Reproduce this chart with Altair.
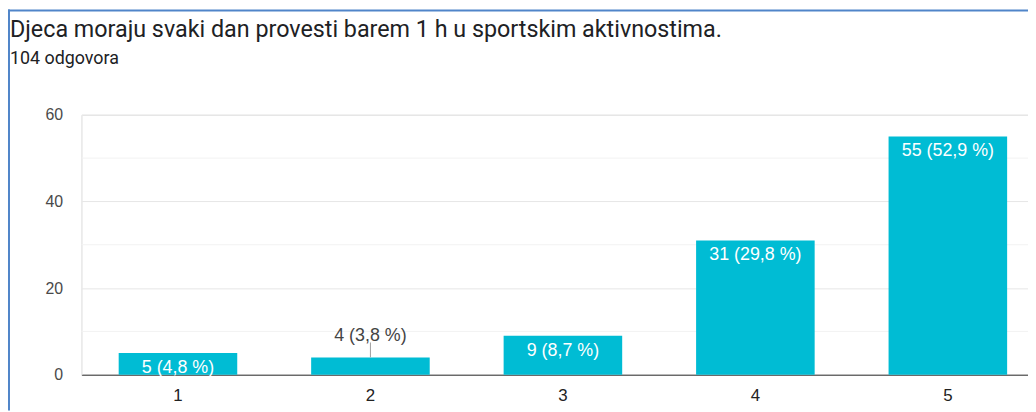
import altair as alt
import pandas as pd

categories = ["1", "2", "3", "4", "5"]
counts = [5, 4, 9, 31, 55]
labels = ["5 (4,8 %)", "4 (3,8 %)", "9 (8,7 %)", "31 (29,8 %)", "55 (52,9 %)"]
label_inside = [True, False, True, True, True]
major_ticks = [0, 20, 40, 60]
minor_ticks = [10, 30, 50]

title_text = "Djeca moraju svaki dan provesti barem 1 h u sportskim aktivnostima."
subtitle_text = "104 odgovora"

df = pd.DataFrame({"cat": categories, "count": counts, "label": labels, "inside": label_inside})
grid_df = pd.DataFrame({"count": minor_ticks})

BAR = "#00bcd4"
FONT = "Liberation Sans"

x_scale = alt.Scale(domain=categories, paddingInner=0.384, paddingOuter=0.151, align=0.641, round=False)
y_scale = alt.Scale(domain=[0, 60], nice=False)
y_axis = alt.Axis(values=major_ticks, title=None, grid=True, gridColor="#e6e6e6",
                  domainColor="#ececec", ticks=False, labelFontSize=16,
                  labelColor="#4a4a4a", labelPadding=19, labelFont=FONT)
x_axis = alt.Axis(title=None, labelAngle=0, ticks=False, domainColor="#333333",
                  domainWidth=1, labelFontSize=17, labelColor="#222222",
                  labelPadding=13, labelFont=FONT, grid=False)

base = alt.Chart(df)

minor = alt.Chart(grid_df).mark_rule(color="#f2f2f2", strokeWidth=1).encode(
    y=alt.Y("count:Q", scale=y_scale, axis=y_axis)
)

bars = base.mark_bar(color=BAR).encode(
    x=alt.X("cat:N", scale=x_scale, axis=x_axis, sort=categories),
    y=alt.Y("count:Q", scale=y_scale, axis=y_axis),
)

inside_text = base.transform_filter("datum.inside").mark_text(
    baseline="alphabetic", align="center", dy=20, color="white", fontSize=18, font=FONT
).encode(
    x=alt.X("cat:N", scale=x_scale, axis=x_axis, sort=categories),
    y=alt.Y("count:Q", scale=y_scale, axis=y_axis),
    text="label:N",
)

outside_text = base.transform_filter("!datum.inside").mark_text(
    baseline="alphabetic", align="center", dy=-17, color="#444444", fontSize=18, font=FONT
).encode(
    x=alt.X("cat:N", scale=x_scale, axis=x_axis, sort=categories),
    y=alt.Y("count:Q", scale=y_scale, axis=y_axis),
    text="label:N",
)

leader = base.transform_filter("!datum.inside").mark_rule(
    color="#9e9e9e", strokeWidth=1, y2Offset=-15
).encode(
    x=alt.X("cat:N", scale=x_scale, axis=x_axis, sort=categories),
    y=alt.Y("count:Q", scale=y_scale, axis=y_axis),
    y2="count:Q",
)

frame_data = alt.Data(values=[{"k": 1}])
border_top = alt.Chart(frame_data).mark_rule(color="#5085c9", strokeWidth=2).encode(
    x=alt.value(-74), x2=alt.value(954), y=alt.value(-105)
)
border_left = alt.Chart(frame_data).mark_rule(color="#5085c9", strokeWidth=2).encode(
    x=alt.value(-73), y=alt.value(-106), y2=alt.value(298)
)

chart = alt.layer(minor, bars, inside_text, outside_text, leader, border_top, border_left).properties(
    width=954,
    height=262,
    padding={"left": 74, "top": 106, "right": 0, "bottom": 36},
    autosize=alt.AutoSizeParams(type="none"),
    title=alt.Title(
        text=title_text,
        subtitle=subtitle_text,
        anchor="start",
        frame="group",
        font="Roboto",
        fontSize=23.5,
        fontWeight="normal",
        color="#202124",
        subtitleFont="Roboto",
        subtitleFontSize=18,
        subtitleColor="#202124",
        subtitlePadding=9,
        dx=-72,
        dy=96,
        offset=36,
    ),
).configure_view(stroke=None).configure(background="white")

chart.save("out.html", embed_options={"renderer": "svg", "actions": False})
